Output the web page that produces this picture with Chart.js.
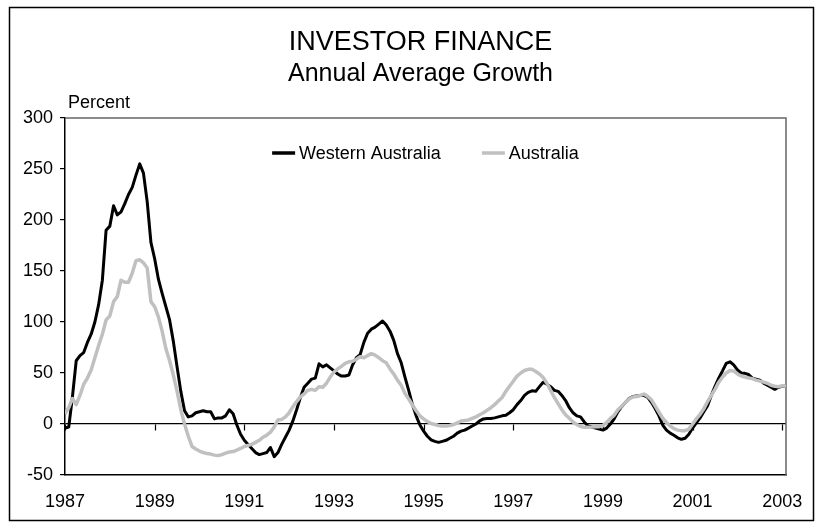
<!DOCTYPE html>
<html>
<head>
<meta charset="utf-8">
<script src="https://cdn.jsdelivr.net/npm/chart.js@4/dist/chart.umd.min.js"></script>
<style>
  body { margin: 0; background: #fff; }
  canvas { display: block; }
</style>
</head>
<body>
<canvas id="investorChart" width="821" height="528"></canvas>
<script>
// Monthly series, starting January 1987
var startYear = 1987;
var chartTitle = 'INVESTOR FINANCE';
var chartSubtitle = 'Annual Average Growth';
var yAxisLabel = 'Percent';
var seriesNames = ['Western Australia', 'Australia'];
var tickYears = [1987, 1989, 1991, 1993, 1995, 1997, 1999, 2001, 2003];
var yTicks = [-50, 0, 50, 100, 150, 200, 250, 300];

var westernAustralia = [
  -4, -3, 27, 62, 67, 70, 80, 88, 100, 117, 141, 190,
  194, 214, 205, 208, 216, 225, 232, 244, 255, 246, 218, 178,
  162, 142, 128, 115, 102, 81, 56, 32, 13, 7, 8, 11,
  12, 13, 12, 12, 5, 6, 6, 8, 14, 10, -1, -10,
  -16, -20, -24, -28, -30, -29, -28, -23, -32, -28, -20, -13,
  -6, 3, 14, 26, 36, 40, 44, 45, 59, 56, 58, 55,
  52, 49, 47, 47, 48, 58, 65, 68, 80, 89, 93, 95,
  98, 101, 97, 91, 82, 69, 60, 46, 33, 19, 8, -1,
  -7, -12, -15.5, -17, -18, -17, -16, -14, -12, -9, -7, -6,
  -4, -2, 0, 3, 5, 5.5, 5.5, 6, 7, 8, 8.5, 11,
  14, 19, 23, 28, 31, 32.5, 32, 36.6, 41, 39, 36.6, 33,
  32, 28, 23, 16, 11, 8, 7, 2, -2, -3, -4, -5,
  -6, -4, 0, 5, 12, 17, 21, 25, 27, 27.5, 28, 28,
  26, 21, 15, 8, -1, -6, -9, -11, -13.5, -15, -14, -10,
  -4, 1, 6, 12, 18, 28, 37, 45, 52, 59.5, 61, 58,
  53, 50, 49.7, 48.5, 45, 44, 43, 40, 38, 36, 34, 36,
  37, 37
];

var australia = [
  10, 16, 25, 19, 28, 39, 45, 53, 65, 77, 88, 102,
  106, 120, 125, 141, 139, 139, 148, 160, 161, 158, 153, 120,
  115, 105, 91, 74, 62, 48, 32, 14, 0, -12, -22, -24.5,
  -26.5, -28, -29, -29.5, -30.5, -31, -30, -28.5, -27.5, -27, -25.5, -24,
  -22, -21, -20, -18, -16, -13, -11, -8, -3, 4, 4.5, 7,
  11, 17, 22, 26.5, 29.5, 33, 34, 33, 36.5, 36, 40, 46,
  51, 54, 56.5, 59.5, 61, 61.5, 63.5, 66, 65, 67, 69, 67.5,
  65, 62, 60, 54, 49, 43, 38, 30, 24.5, 18.6, 13, 8,
  5, 2.5, 0.5, -0.5, -1.5, -2, -2, -1.5, -0.5, 1, 3, 3.5,
  4, 5.5, 7, 9, 11, 13.5, 16, 19, 22.5, 26, 32, 37,
  42, 47, 50, 52.5, 53.6, 53.6, 51.5, 49, 45.5, 40, 33, 26,
  20, 14, 9, 5.6, 2, -0.5, -2.5, -3.3, -3.3, -3, -2.6, -2.6,
  -1.5, 1.5, 5.5, 8.5, 14, 17.5, 21, 24.5, 26.5, 27, 28, 29.4,
  27, 23.5, 17.5, 11.5, 5.6, 1.5, -2, -4.5, -6, -6.5, -6.5, -5,
  0, 5, 9.5, 15, 22, 28, 34, 41, 46, 50, 52.5, 52,
  49, 47, 46, 45, 44.5, 43, 42, 41, 40, 38, 37, 36.6,
  37.5, 37
];

// turn a monthly list into {x, y} points on a year scale
function toPoints(values) {
  return values.map(function(v, i) {
    return { x: startYear + i / 12, y: v };
  });
}

var fontFamily = '"Liberation Sans", Arial, sans-serif';
Chart.defaults.font.family = fontFamily;
Chart.defaults.color = '#000';

// white background, titles, plot frame, zero-line ticks, legend, "Percent" label and outer border
var framePlugin = {
  id: 'frame',
  beforeDraw: function(chart) {
    var ctx = chart.ctx;
    ctx.save();
    ctx.fillStyle = '#fff';
    ctx.fillRect(0, 0, chart.width, chart.height);
    ctx.fillStyle = '#000';
    ctx.textAlign = 'center';
    ctx.textBaseline = 'alphabetic';
    ctx.font = '27px ' + fontFamily;
    ctx.fillText(chartTitle, 420.5, 50);
    ctx.font = '25px ' + fontFamily;
    ctx.fillText(chartSubtitle, 420.5, 81);
    ctx.restore();
  },
  beforeDatasetsDraw: function(chart) {
    var ctx = chart.ctx;
    var area = chart.chartArea;
    var xs = chart.scales.x;
    var zeroY = Math.round(chart.scales.y.getPixelForValue(0)) + 0.5;
    ctx.save();
    ctx.strokeStyle = '#666';
    ctx.lineWidth = 1.5;
    ctx.beginPath();
    ctx.moveTo(area.left, area.top);
    ctx.lineTo(area.right, area.top);
    ctx.lineTo(area.right, area.bottom);
    ctx.stroke();
    ctx.strokeStyle = '#000';
    ctx.lineWidth = 1.2;
    tickYears.forEach(function(yr) {
      var px = Math.round(xs.getPixelForValue(yr)) + 0.5;
      ctx.beginPath();
      ctx.moveTo(px, zeroY);
      ctx.lineTo(px, zeroY + 6);
      ctx.stroke();
    });
    ctx.restore();
  },
  afterDraw: function(chart) {
    var ctx = chart.ctx;
    var area = chart.chartArea;
    ctx.save();
    ctx.fillStyle = '#000';
    ctx.font = '18px ' + fontFamily;
    ctx.textBaseline = 'alphabetic';
    ctx.fillText(yAxisLabel, area.left + 3, area.top - 10);

    // legend: short line + label, centred over the plot
    var sets = chart.data.datasets;
    var lineLen = 23, gap = 4, itemGap = 41;
    var total = 0;
    sets.forEach(function(ds, i) {
      total += lineLen + gap + ctx.measureText(ds.label).width;
      if (i < sets.length - 1) total += itemGap;
    });
    var x = (area.left + area.right) / 2 - total / 2;
    var y = area.top + 36;
    ctx.textBaseline = 'middle';
    sets.forEach(function(ds) {
      ctx.strokeStyle = ds.borderColor;
      ctx.lineWidth = 3.5;
      ctx.beginPath();
      ctx.moveTo(x, y - 1);
      ctx.lineTo(x + lineLen, y - 1);
      ctx.stroke();
      x += lineLen + gap;
      ctx.fillText(ds.label, x, y);
      x += ctx.measureText(ds.label).width + itemGap;
    });

    ctx.strokeStyle = '#000';
    ctx.lineWidth = 1.5;
    ctx.strokeRect(9.5, 7.5, 804, 513);
    ctx.restore();
  }
};

var ctx = document.getElementById('investorChart').getContext('2d');
var investorChart = new Chart(ctx, {
  type: 'line',
  data: {
    datasets: [{
      label: seriesNames[0],
      data: toPoints(westernAustralia),
      borderColor: '#000',
      backgroundColor: '#000',
      borderWidth: 3,
      order: 1
    }, {
      label: seriesNames[1],
      data: toPoints(australia),
      borderColor: '#c0c0c0',
      backgroundColor: '#c0c0c0',
      borderWidth: 3.5,
      order: 0
    }]
  },
  options: {
    responsive: false,
    animation: false,
    devicePixelRatio: 1,
    elements: {
      point: { radius: 0 },
      line: { tension: 0, borderJoinStyle: 'round' }
    },
    layout: { padding: { top: 118, left: 10, right: 35, bottom: 0 } },
    plugins: {
      title: { display: false },
      legend: { display: false },
      tooltip: { enabled: false }
    },
    scales: {
      x: {
        type: 'linear',
        min: startYear,
        max: startYear + (westernAustralia.length - 1) / 12,
        afterBuildTicks: function(scale) {
          scale.ticks = tickYears.map(function(v) { return { value: v }; });
        },
        afterFit: function(scale) { scale.height = 53; },
        grid: { display: true, drawOnChartArea: false, drawTicks: false },
        border: { display: true, color: '#000', width: 1.5 },
        ticks: {
          autoSkip: false,
          maxRotation: 0,
          padding: 16,
          font: { size: 18 },
          callback: function(value) { return String(value); }
        }
      },
      y: {
        min: yTicks[0],
        max: yTicks[yTicks.length - 1],
        afterBuildTicks: function(scale) {
          scale.ticks = yTicks.map(function(v) { return { value: v }; });
        },
        afterFit: function(scale) { scale.width = 55; },
        grid: {
          drawOnChartArea: true,
          color: function(c) { return c.tick && c.tick.value === 0 ? '#000' : 'rgba(0,0,0,0)'; },
          tickColor: '#000',
          tickLength: 5,
          lineWidth: 1.2
        },
        border: { display: true, color: '#000', width: 1.5 },
        ticks: {
          padding: 7,
          font: { size: 18 }
        }
      }
    }
  },
  plugins: [framePlugin]
});
</script>
</body>
</html>
